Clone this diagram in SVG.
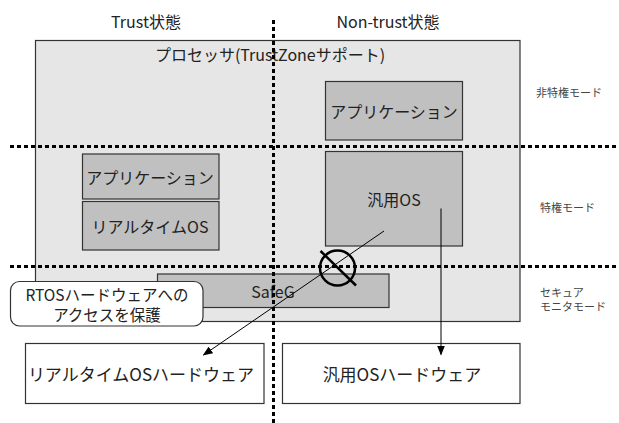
<svg xmlns="http://www.w3.org/2000/svg" width="619" height="423" viewBox="0 0 619 423">
<defs>
<style>
.t{font-family:"Noto Sans CJK JP","Noto Sans",sans-serif;fill:#222;text-anchor:middle;dominant-baseline:central}
.lbl{font-family:"Noto Sans CJK JP","Noto Sans",sans-serif;fill:#444;font-size:11px}
.inner{fill:#c0c0c0;stroke:#333;stroke-width:1.2}
.hw{fill:#fff;stroke:#333;stroke-width:1.2}
.dash{stroke:#000;stroke-width:3;stroke-dasharray:4 3;fill:none}
.conn{stroke:#000;stroke-width:1;fill:none}
</style>
<marker id="ah" markerWidth="10" markerHeight="8" refX="9" refY="4" orient="auto" markerUnits="userSpaceOnUse">
<path d="M0,0 L10,4 L0,8 Z" fill="#000"/>
</marker>
</defs>
<rect width="619" height="423" fill="#fff"/>

<text class="t" x="146" y="21" font-size="16">Trust状態</text>
<text class="t" x="388" y="21" font-size="16">Non-trust状態</text>

<g id="processor">
<rect x="35.5" y="40.5" width="484.5" height="281" fill="#e6e6e6" stroke="#333" stroke-width="1.2"/>
<text class="t" x="270" y="54" font-size="16">プロセッサ(TrustZoneサポート)</text>
</g>

<g id="app-nontrust">
<rect class="inner" x="325.5" y="81.5" width="137" height="58.5"/>
<text class="t" x="394" y="111" font-size="16">アプリケーション</text>
</g>
<g id="app-trust">
<rect class="inner" x="82.5" y="154" width="136.5" height="45"/>
<text class="t" x="150" y="176.5" font-size="16">アプリケーション</text>
</g>
<g id="rtos">
<rect class="inner" x="82.5" y="201.5" width="136.5" height="48.5"/>
<text class="t" x="150" y="225.5" font-size="16">リアルタイムOS</text>
</g>
<g id="gpos">
<rect class="inner" x="325.5" y="151.5" width="137" height="94.5"/>
<text class="t" x="394" y="199" font-size="16">汎用OS</text>
</g>
<g id="safeg">
<rect class="inner" x="157.5" y="274" width="231.5" height="33.5"/>
<text class="t" x="273" y="291" font-size="16">SafeG</text>
</g>

<g id="hw-rtos">
<rect class="hw" x="25.5" y="343.5" width="238.5" height="60"/>
<text class="t" x="141" y="373.5" font-size="17">リアルタイムOSハードウェア</text>
</g>
<g id="hw-gpos">
<rect class="hw" x="282.5" y="343.5" width="237.5" height="60"/>
<text class="t" x="402" y="373.5" font-size="17">汎用OSハードウェア</text>
</g>

<g id="dividers">
<line class="dash" x1="10" y1="146.5" x2="619" y2="146.5"/>
<line class="dash" x1="10" y1="266.5" x2="619" y2="266.5"/>
<line class="dash" x1="273.5" y1="20" x2="273.5" y2="423"/>
</g>

<g id="connectors">
<line class="conn" x1="384" y1="231" x2="203.5" y2="355" marker-end="url(#ah)"/>
<line class="conn" x1="441" y1="208.5" x2="441" y2="354.5" stroke="#333" marker-end="url(#ah)"/>
</g>

<g id="block-symbol">
<circle cx="337.5" cy="268" r="17.5" fill="none" stroke="#000" stroke-width="2.5"/>
<line x1="320.5" y1="251" x2="356" y2="285.5" stroke="#000" stroke-width="2.5"/>
</g>

<g id="callout">
<rect x="10.5" y="281.5" width="192.5" height="44.5" rx="9" fill="#fff" stroke="#333" stroke-width="1.2"/>
<text class="t" x="107" y="293.5" font-size="15.5">RTOSハードウェアへの</text>
<text class="t" x="107" y="313.5" font-size="15.5">アクセスを保護</text>
</g>

<g id="mode-labels">
<text class="lbl" x="536" y="92" dominant-baseline="central">非特権モード</text>
<text class="lbl" x="540" y="207" dominant-baseline="central">特権モード</text>
<text class="lbl" x="540" y="291.5" dominant-baseline="central">セキュア</text>
<text class="lbl" x="540" y="306" dominant-baseline="central">モニタモード</text>
</g>
</svg>
